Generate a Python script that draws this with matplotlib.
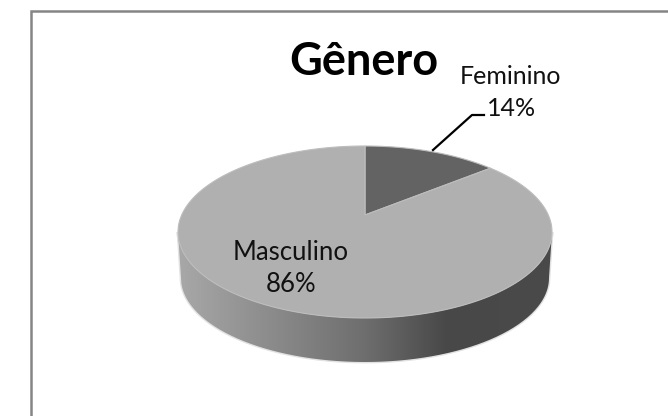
## 3D looking pie of gender split, Gênero

import numpy as np
import matplotlib
matplotlib.use("Agg")
import matplotlib.pyplot as plt
from matplotlib.patches import Polygon, PathPatch
from matplotlib.path import Path
from matplotlib.colors import LinearSegmentedColormap

labels = ["Feminino", "Masculino"]
values = [14, 86]
title = "Gênero"

plt.rcParams['font.family'] = ['Lato', 'DejaVu Sans']

# centre and radii of the top face, pixels
cx = 365.
cy = 232.
rx = 187.
ry = 86.
k = 0.198   # perspective shift of the pie centre
depth = 46.


def project(x, y):
    # unit disc to the tilted top face
    u = np.sqrt(1-k*k)*x/(1+k*y)
    v = (y+k)/(1+k*y)
    return cx+rx*u, cy-ry*v


def wedge(a0, a1):
    t = np.linspace(a0, a1, 200)
    px, py = project(np.sin(t), np.cos(t))
    ox, oy = project(0., 0.)
    return np.column_stack([np.r_[ox, px], np.r_[oy, py]])


fig = plt.figure(figsize=(6.68, 4.16), dpi=100)
ax = fig.add_axes([0, 0, 1, 1])
ax.set_xlim(0, 668)
ax.set_ylim(416, 0)
ax.axis('off')

# frame, only left and top show in the crop
ax.plot([31, 31, 668], [416, 11, 11], color='#858585', lw=1.8, solid_joinstyle='miter')

# side wall with the horizontal gradient
t = np.linspace(0, np.pi, 200)
top_x = cx+rx*np.cos(t)
top_y = cy+ry*np.sin(t)
bot_x = cx+(rx-3)*np.cos(t[::-1])
bot_y = cy+depth+(ry-2)*np.sin(t[::-1])
side = np.column_stack([np.r_[top_x, bot_x], np.r_[top_y, bot_y]])

ax.add_patch(Polygon(side, closed=True, fc='none', ec='#e2e2e2', lw=2.0))
cmap = LinearSegmentedColormap.from_list('side', [(0, '#a8a8a8'), (0.5, '#6e6e6e'), (0.72, '#484848'), (1, '#4a4a4a')])
grad = np.linspace(0, 1, 256).reshape(1, -1)
im = ax.imshow(grad, cmap=cmap, extent=[178, 552, 368, 225], aspect='auto', zorder=2)
im.set_clip_path(PathPatch(Path(side), transform=ax.transData))
ax.set_xlim(0, 668)
ax.set_ylim(416, 0)

# top face, drawn from the values
fracs = np.cumsum([0]+values)/float(sum(values))*2*np.pi
colors = ['#636363', '#b0b0b0']
for i in range(len(values)):
    ax.add_patch(Polygon(wedge(fracs[i], fracs[i+1]), closed=True, fc=colors[i],
                         ec='#bdbdbd', lw=0.8, zorder=3))

# leader line of the small slice
ax.plot([433, 472, 484], [150, 115, 115], color='black', lw=1.6, zorder=4)

ax.text(364, 62, title, ha='center', va='center', fontsize=32.5, fontweight='bold', color='black')
ax.text(511, 76, labels[0], ha='center', va='center', fontsize=18, color='#111111', zorder=5)
ax.text(512, 109, str(values[0])+'%', ha='center', va='center', fontsize=18, color='#111111', zorder=5)
ax.text(291, 253, labels[1], ha='center', va='center', fontsize=18.5, color='#111111', zorder=5)
ax.text(291, 285, str(values[1])+'%', ha='center', va='center', fontsize=18.5, color='#111111', zorder=5)

fig.savefig('out.png', dpi=100)
